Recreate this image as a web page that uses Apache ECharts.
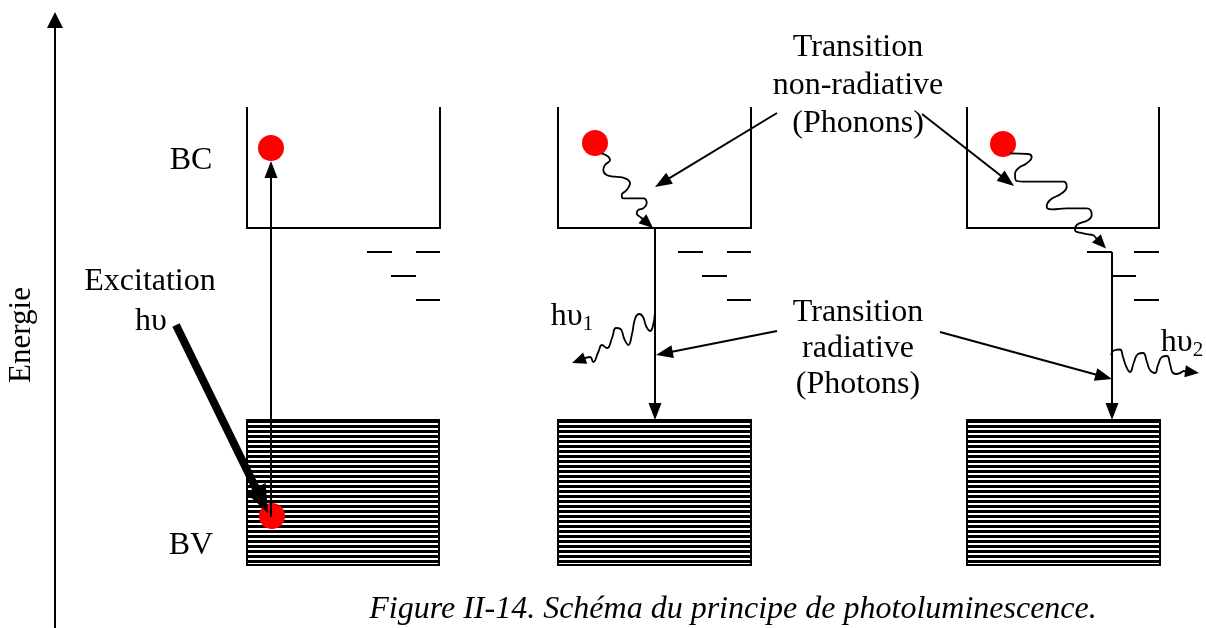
<!DOCTYPE html>
<html>
<head>
<meta charset="utf-8">
<script src="https://cdn.jsdelivr.net/npm/echarts@6/dist/echarts.min.js"></script>
<style>
html, body { margin: 0; padding: 0; background: #fff; }
#main { width: 1206px; height: 628px; }
</style>
</head>
<body>
<div id="main"></div>
<script>
// diagram frame: x to the right, y downward (y axis inverted)
var bcWells = [[247, 440, 107, 228], [558, 751, 107, 228], [967, 1159, 107, 228]];
var bvBands = [[247, 439, 420, 565], [558, 751, 420, 565], [967, 1160, 420, 565]];
var trapLevels = [
  [367, 392, 252], [416, 440, 252], [391, 416, 276], [416, 440, 300],
  [678, 703, 252], [727, 751, 252], [702, 727, 276], [727, 751, 300],
  [1087, 1112, 252], [1134, 1159, 252], [1112, 1136, 276], [1134, 1159, 300]
];
var energyAxis = [[55, 628, 55, 12]];
var thinArrows = [
  [271, 517, 271, 161],
  [655, 228, 655, 420],
  [1112, 252, 1112, 420],
  [777, 113, 655, 187],
  [922, 114, 1014, 186],
  [777, 331, 656, 355],
  [940, 332, 1112, 379]
];
var waveTips = [
  [640, 216.7, 653, 228],
  [1093.3, 235, 1106, 248.5],
  [583, 359, 572, 363],
  [1183, 371, 1199, 373]
];
var excitationArrow = [[176, 325, 268, 513]];
var electrons = [[271, 148], [272, 516], [595, 143], [1003, 144]];

var phononWave2 = [
  [601.7, 153.3], [608.3, 156.7], [610, 160], [605, 165], [603.3, 170], [606.7, 175],
  [615, 176.7], [625, 178.3], [630, 183.3], [626.7, 190], [621.7, 195], [623.3, 198.3],
  [631.7, 198.3], [643.3, 198.3], [646.7, 203.3], [643.3, 208.3], [638.3, 210],
  [636.7, 213.3], [640, 216.7]
];
var phononWave3 = [
  [1010, 153.3], [1028.3, 154], [1031.7, 157.3], [1026.7, 163.3], [1018.3, 168.3],
  [1015, 175], [1016.7, 181], [1026.7, 181.7], [1043.3, 181.7], [1063.3, 181.7],
  [1066.7, 186.7], [1061.7, 193.3], [1050, 200], [1046.7, 206.7], [1051.7, 209.3],
  [1066.7, 208.3], [1086.7, 208.3], [1091.7, 215], [1088.3, 220], [1076.7, 225],
  [1075, 230], [1080, 232.7], [1093.3, 235]
];
var photonWave1 = [
  [655, 312], [652.7, 327], [650, 331], [646.5, 327], [643, 317], [639.3, 314],
  [635.3, 318], [632, 334], [628.3, 345], [624.3, 339], [620.5, 329], [616, 328],
  [612, 338], [607, 348], [602, 345], [598.3, 352], [593.3, 362],
  [590, 357], [583, 359]
];
var photonWave2 = [
  [1111, 355], [1115, 350], [1120, 349.5], [1123, 357], [1126, 366], [1130, 372],
  [1134, 362], [1138, 354], [1143, 353], [1147, 362], [1150, 370], [1155, 373],
  [1158, 365], [1162, 357], [1167, 356], [1170, 364], [1173, 373], [1177, 374], [1183, 371]
];

var labelTexts = ['BC', 'BV', 'Excitation', 'hυ', 'Transition', 'non-radiative', '(Phonons)',
  'Transition', 'radiative', '(Photons)', 'hυ{s|1}', 'hυ{s|2}'];
var labelPos = [[191, 161], [191, 546], [150, 282], [151, 322], [858, 48], [858, 86], [858, 124],
  [858, 313], [858, 349], [858, 385], [572, 317], [1182, 343]];
var axisTitle = [[22, 335, 'Energie']];
var caption = [[733, 610, 'Figure II-14. Schéma du principe de photoluminescence.']];

var FONT = '"Liberation Serif", "DejaVu Serif", serif';

function arrowShape(p0, p1, width, headLen, headWidth) {
  var dx = p1[0] - p0[0], dy = p1[1] - p0[1];
  var len = Math.sqrt(dx * dx + dy * dy);
  var ux = dx / len, uy = dy / len;
  var bx = p1[0] - ux * headLen, by = p1[1] - uy * headLen;
  var nx = -uy * headWidth / 2, ny = ux * headWidth / 2;
  return {
    type: 'group',
    children: [
      { type: 'line', shape: { x1: p0[0], y1: p0[1], x2: bx + ux * 2, y2: by + uy * 2 },
        style: { stroke: '#000', lineWidth: width } },
      { type: 'polygon', shape: { points: [[p1[0], p1[1]], [bx + nx, by + ny], [bx - nx, by - ny]] },
        style: { fill: '#000' } }
    ]
  };
}

function arrowRenderer(width, headLen, headWidth) {
  return function (params, api) {
    var p0 = api.coord([api.value(0), api.value(1)]);
    var p1 = api.coord([api.value(2), api.value(3)]);
    return arrowShape(p0, p1, width, headLen, headWidth);
  };
}

function renderWell(params, api) {
  var x0 = api.value(0), x1 = api.value(1), yt = api.value(2), yb = api.value(3);
  return {
    type: 'polyline',
    shape: { points: [api.coord([x0, yt]), api.coord([x0, yb]), api.coord([x1, yb]), api.coord([x1, yt])] },
    style: { stroke: '#000', lineWidth: 2, fill: null }
  };
}

function renderBand(params, api) {
  var tl = api.coord([api.value(0), api.value(2)]);
  var br = api.coord([api.value(1), api.value(3)]);
  var w = br[0] - tl[0];
  var kids = [];
  // hatching: 3px black / 2px white
  for (var y = tl[1]; y < br[1]; y += 5) {
    kids.push({ type: 'rect', shape: { x: tl[0], y: y, width: w, height: Math.min(3, br[1] - y) },
      style: { fill: '#000' } });
  }
  kids.push({ type: 'rect', shape: { x: tl[0], y: tl[1], width: w, height: br[1] - tl[1] },
    style: { fill: null, stroke: '#000', lineWidth: 2 } });
  return { type: 'group', children: kids };
}

function renderLevel(params, api) {
  var a = api.coord([api.value(0), api.value(2)]);
  var b = api.coord([api.value(1), api.value(2)]);
  return { type: 'line', shape: { x1: a[0], y1: a[1], x2: b[0], y2: b[1] },
    style: { stroke: '#000', lineWidth: 2 } };
}

function waveSeries(pts) {
  return {
    type: 'line', data: pts, smooth: 0.5, showSymbol: false, symbol: 'none',
    lineStyle: { color: '#000', width: 1.8, opacity: 1 }, z: 4, silent: true
  };
}

var labelData = labelTexts.map(function (t, i) { return [labelPos[i][0], labelPos[i][1], t]; });

var textLabel = {
  show: true, position: 'inside', color: '#000', opacity: 1, fontFamily: FONT, fontSize: 32,
  formatter: function (p) { return p.value[2]; },
  rich: { s: { fontSize: 21, fontFamily: FONT, color: '#000', verticalAlign: 'bottom', padding: [14, 0, 0, 0] } }
};
var hiddenDot = { color: 'rgba(0,0,0,0)', opacity: 1 };

var chart = echarts.init(document.getElementById('main'));
chart.setOption({
  animation: false,
  backgroundColor: '#fff',
  grid: { left: 0, right: 0, top: 0, bottom: 0 },
  xAxis: { type: 'value', min: 0, max: 1206, show: false },
  yAxis: { type: 'value', min: 0, max: 628, inverse: true, show: false },
  series: [
    { type: 'custom', data: bvBands, renderItem: renderBand, clip: false, z: 1, silent: true },
    { type: 'custom', data: bcWells, renderItem: renderWell, clip: false, z: 2, silent: true },
    { type: 'custom', data: trapLevels, renderItem: renderLevel, clip: false, z: 2, silent: true },
    { type: 'scatter', data: electrons, symbol: 'circle', symbolSize: 26,
      itemStyle: { color: '#ff0000', opacity: 1 }, z: 3, silent: true },
    waveSeries(phononWave2),
    waveSeries(phononWave3),
    waveSeries(photonWave1),
    waveSeries(photonWave2),
    { type: 'custom', data: waveTips, renderItem: arrowRenderer(1.8, 14, 12), clip: false, z: 5, silent: true },
    { type: 'custom', data: thinArrows, renderItem: arrowRenderer(2, 17, 13), clip: false, z: 5, silent: true },
    { type: 'custom', data: energyAxis, renderItem: arrowRenderer(2, 16, 16), clip: false, z: 5, silent: true },
    { type: 'custom', data: excitationArrow, renderItem: arrowRenderer(8, 28, 22), clip: false, z: 6, silent: true },
    { type: 'scatter', data: labelData, symbolSize: 1, itemStyle: hiddenDot,
      label: textLabel, z: 7, silent: true },
    { type: 'scatter', data: axisTitle, symbolSize: 1, itemStyle: hiddenDot,
      label: Object.assign({}, textLabel, { rotate: 90, fontSize: 31 }), z: 7, silent: true },
    { type: 'scatter', data: caption, symbolSize: 1, itemStyle: hiddenDot,
      label: Object.assign({}, textLabel, { fontStyle: 'italic', fontSize: 32 }), z: 7, silent: true }
  ]
});
</script>
</body>
</html>
